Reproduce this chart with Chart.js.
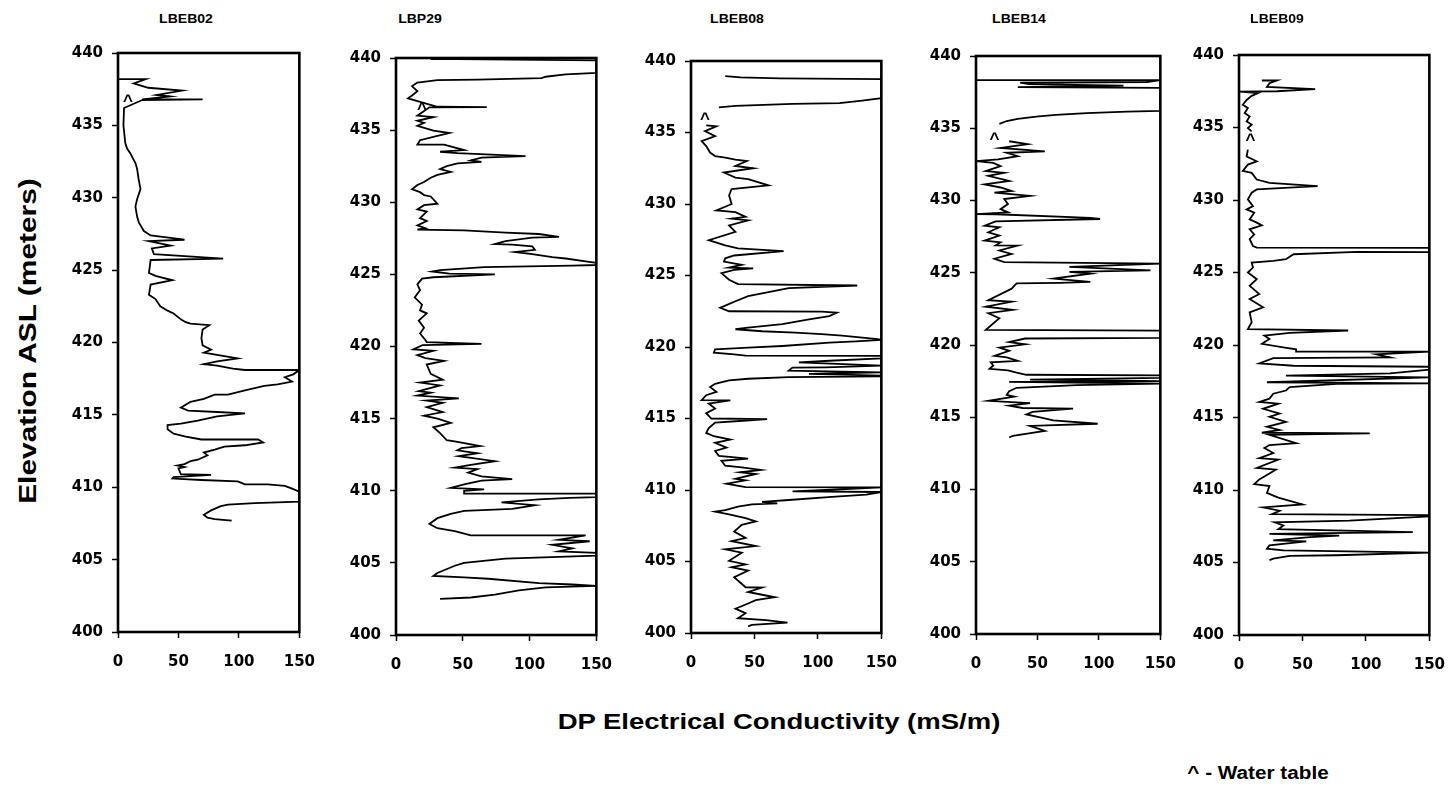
<!DOCTYPE html>
<html>
<head>
<meta charset="utf-8">
<script src="https://cdn.jsdelivr.net/npm/chart.js@4.4.1/dist/chart.umd.min.js"></script>
<style>
  body { margin: 0; background: #fff; }
  #page { position: relative; width: 1453px; height: 786px; overflow: hidden; background: #fff;
          font-family: "Liberation Sans", Arial, sans-serif; font-weight: bold; color: #000; }
  .panel { position: absolute; }
  .well { position: absolute; font-size: 13px; transform: translate(-50%, -50%) scaleX(1.08); white-space: nowrap; }
  #ytitle { position: absolute; left: 28px; top: 341px; font-size: 23px; white-space: nowrap;
            transform: translate(-50%, -50%) rotate(-90deg) scaleX(1.3); }
  #xtitle { position: absolute; left: 779px; top: 722px; font-size: 22px; white-space: nowrap;
            transform: translate(-50%, -50%) scaleX(1.25); }
  #legend { position: absolute; left: 1258px; top: 773px; font-size: 18px; white-space: nowrap;
            transform: translate(-50%, -50%) scaleX(1.15); }
</style>
</head>
<body>
<div id="page">
  <div id="ytitle">Elevation ASL (meters)</div>
  <div id="xtitle">DP Electrical Conductivity (mS/m)</div>
  <div id="legend">^ - Water table</div>
</div>
<script>
// well names and axis ranges
const wells = ["LBEB02", "LBP29", "LBEB08", "LBEB14", "LBEB09"];
const elevRange = [400, 440];
const condTicks = [0, 50, 100, 150];

// profiles: [elevation m, conductivity mS/m], top to bottom; null = break
const LBEB02 = [
  [438.2,0],[438.2,23],[437.9,13],[437.6,25],[437.4,53],[437.1,32],[437.0,43],[436.8,20],[436.8,70],[436.75,20],
  [436.2,5],[435.0,4.5],[433.8,6],[433.4,7.5],[433.1,10],[432.4,14.4],[432.0,15.8],[431.3,17],[430.6,18.6],[429.9,15.8],
  [429.4,14.4],[428.7,15.8],[428.3,17.2],[427.7,21.4],[427.4,27],[427.1,55],[427.0,25.6],[426.7,43.6],[426.5,28],[426.1,29.7],
  [425.8,87],[425.7,27],[424.8,25.6],[424.6,31],[424.3,45],[424.0,27],[423.3,25.6],[423.0,31],[422.5,35],[422.2,41],
  [422.0,46],[421.6,52],[421.4,56],[421.3,60],[421.2,75.5],[420.9,70],[420.3,69],[419.8,70],[419.5,77],[419.3,71],
  [418.9,99],[418.7,82],[418.5,71],[418.4,82],[418.2,95],[418.1,105],[418.1,150],[417.8,145],[417.6,138],[417.3,144],
  [417.1,132],[417.0,121],[416.7,105],[416.4,91],[416.4,80],[416.1,71],[415.9,60],[415.5,52],[415.3,58],[415.2,82],
  [415.1,105],[414.9,82],[414.6,66],[414.4,52],[414.3,41],[414.0,41],[413.7,46],[413.5,56],[413.3,69],[413.3,116],
  [413.1,120],[412.9,105],[412.8,88],[412.6,80],[412.4,71],[412.2,74],[411.9,66],[411.8,60],[411.6,55],[411.5,49],
  [411.4,55],[411.3,50],[410.9,52],[410.85,77],[410.7,46],[410.6,45],[410.5,69],[410.4,99],[410.2,105],[410.2,124],
  [410.1,138],[409.9,144],[409.7,150],[409.0,150],[408.9,113],[408.8,91],[408.7,85],[408.4,77],[408.1,71],[407.9,74],
  [407.8,80],[407.7,94]
];
const LBP29 = [
  [439.93,26],[439.92,45],[439.84,150],[438.97,150],[438.86,127],[438.7,112],[438.6,109],[438.5,61],[438.47,31],[438.3,16],
  [438.05,12],[437.7,16],[437.4,12],[437.2,9],[436.62,31],[436.6,68],[436.58,25],[436.0,16],[435.9,28],[435.65,16],
  [435.5,21],[435.3,16],[434.96,28],[434.8,40],[434.6,31],[434.3,18],[434.0,16],[434.0,36],[433.62,51],[433.5,33],
  [433.4,46],[433.2,97],[433.1,64],[432.9,56],[432.8,64],[432.7,46],[432.5,38],[432.3,33],[432.1,41],[431.9,31],
  [431.7,26],[431.4,21],[431.2,16],[430.9,12],[430.7,18],[430.5,21],[430.4,26],[429.9,31],[429.8,21],[429.5,16],
  [429.35,23],[428.9,18],[428.7,23],[428.4,16],[428.2,22],[428.1,16],[428.05,51],[427.9,82],[427.8,107],[427.6,122],
  [427.55,102],[427.3,82],[427.1,74],[427.06,87],[426.95,102],[426.7,104],[426.55,89],[426.4,102],[426.2,117],[426.1,127],
  [425.9,142],[425.8,150],[425.65,150],[425.6,132],[425.5,66],[425.3,33],[425.2,27],[425.05,40],[425.0,74],[424.8,28],
  [424.7,19.5],[424.3,16],[423.9,18],[423.4,14],[422.9,19.5],[422.5,18],[422.3,23],[421.8,17],[421.3,21],[420.9,18],
  [420.45,22],[420.3,23],[420.18,64],[420.1,20],[419.8,13],[419.7,28],[419.4,16],[419.2,22],[419.0,36],[418.75,23],
  [418.1,26],[417.7,35],[417.5,18],[417.3,33],[416.9,17],[416.8,26],[416.6,16],[416.4,47],[416.25,23],[416.1,35],
  [415.8,23],[415.45,35],[415.2,21],[415.0,31],[414.7,41],[414.4,28],[414.0,33],[413.5,38],[413.4,45],[413.1,63],
  [412.95,49],[412.8,46],[412.6,61],[412.4,47],[412.05,74],[411.8,56],[411.6,44],[411.5,61],[411.25,54],[411.0,64],
  [410.8,87],[410.7,64],[410.45,51],[410.2,41],[410.1,66],[410.0,51],[409.8,51],[409.8,150],[409.55,150],[409.5,130],
  [409.4,107],[409.2,79],[409.0,104],[408.75,87],[408.6,51],[408.4,41],[408.1,31],[407.7,25],[407.4,31],[407.2,44],
  [406.9,56],[406.9,142],[406.6,122],[406.5,145],[406.25,117],[406.0,132],[405.8,122],[405.7,150],[405.5,150],[405.3,82],
  [405.0,51],[404.8,44],[404.3,31],[404.1,28],[404.0,51],[403.9,69],[403.6,107],[403.5,132],[403.4,150],[403.3,112],
  [403.1,92],[402.8,74],[402.6,56],[402.5,33]
];
const LBEB08 = [
  [438.94,27],[438.85,39],[438.78,70],[438.73,150],[437.4,150],[437.23,135],[437.05,117],[437.0,80],[436.86,35],[436.75,22],
  null,[435.5,12],[435.43,20],[435.1,11],[434.74,19],[434.4,8.4],[434.05,12],[433.6,15],[433.35,19],[433.24,27],
  [433.1,35],[433.0,44],[432.66,35],[432.5,49],[432.2,26],[431.85,35],[431.74,45],[431.3,61],[431.05,32],[430.6,30],
  [430.0,32],[429.55,20],[429.43,35],[429.1,43],[428.97,32],[428.85,45],[428.5,30],[428.05,35],[427.47,14],[427.1,27],
  [426.9,37],[426.7,73],[426.4,34],[426.2,27],[425.97,26],[425.74,40],[425.55,30],[425.5,49],[425.4,34],[425.16,24],
  [424.7,30],[424.4,37],[424.3,131],[424.12,77],[423.8,59],[423.55,45],[423.2,35],[422.74,23],[422.5,30],[422.48,103],
  [422.4,115],[422.16,109],[421.93,93],[421.6,72],[421.35,45],[421.24,35],[421.1,56],[421.0,82],[420.9,103],[420.8,119],
  [420.66,135],[420.55,147],[420.5,150],[420.4,130],[420.3,109],[420.07,72],[419.95,45],[419.84,19],[419.6,18],[419.5,32],
  [419.4,43],[419.38,150],[419.2,150],[419.04,109],[418.92,85],[418.7,150],[418.58,106],[418.56,80],[418.35,77],[418.23,150],
  [418.12,93],[418.0,150],[417.95,150],[417.9,77],[417.78,45],[417.66,30],[417.43,19],[417.2,15],[416.86,20],[416.63,12],
  [416.28,8.4],[416.27,31],[416.05,14],[415.7,19],[415.37,12],[415.0,16],[414.95,60],[414.86,44],[414.72,19],[414.33,14],
  [413.99,12],[413.76,18],[413.53,31],[413.3,19],[412.96,28],[412.73,19],[412.39,22],[412.2,45],[412.04,24],[411.7,27],
  [411.58,40],[411.4,55],[411.24,39],[411.12,51],[410.78,35],[410.67,43],[410.44,28],[410.2,43],[410.18,150],[410.0,106],
  [409.9,80],[409.86,150],[409.68,138],[409.52,111],[409.3,77],[409.17,56],[409.06,68],[409.0,48],[408.83,37],[408.6,27],
  [408.49,19],[408.3,30],[408.03,43],[407.8,51],[407.57,40],[407.1,34],[406.65,43],[406.42,32],[406.08,51],[405.85,27],
  [405.62,40],[405.05,30],[404.8,43],[404.6,32],[404.36,45],[403.9,34],[403.2,43],[403.18,56],[402.87,45],[402.5,66],
  [402.3,51],[402.06,45],[401.7,35],[401.38,43],[401.03,37],[400.9,59],[400.73,76],[400.57,48],[400.46,45]
];
const LBEB14 = [
  [438.33,0],[438.33,150],[438.2,139],[438.15,36],[438.05,43],[437.95,120],[437.85,34],[437.8,150],[436.2,150],[436.15,123],
  [436.04,90],[435.93,65],[435.8,49],[435.65,34],[435.5,25],[435.3,19],null,[434.1,27],[433.9,42],[433.64,20],
  [433.4,56],[433.3,25],[433.07,34],[432.84,18],[432.72,0],[432.6,14],[432.38,20],[432.04,8],[431.92,23],[431.7,10],
  [431.35,27],[431.12,7],[430.9,20],[430.66,29],[430.55,15],[430.32,44],[430.1,23],[429.75,26],[429.4,20],[429.18,26],
  [429.06,0],[429.05,16],[428.8,93],[428.72,101],[428.56,16],[428.26,7],[428.15,19],[427.8,10],[427.57,19],[427.23,7],
  [427.1,20],[426.9,16],[426.88,34],[426.54,19],[426.3,29],[425.97,15],[425.74,23],[425.63,150],[425.4,76],[425.17,142],
  [425.06,76],[424.94,93],[424.6,63],[424.37,93],[424.3,68],[424.26,33],[423.9,29],[423.1,10],[423.0,29],[422.65,8],
  [422.43,30],[422.2,10],[421.85,19],[421.05,8],[421.0,150],[420.5,150],[420.45,40],[420.2,27],[420.05,40],[419.82,19],
  [419.6,27],[419.25,15],[419.14,25],[418.9,34],[418.8,12],[418.58,14],[418.35,11],[418.24,26],[418.08,33],[417.94,41],
  [417.9,150],[417.72,150],[417.6,44],[417.5,150],[417.45,27],[417.33,150],[417.22,82],[417.04,33],[416.8,27],[416.54,25],
  [416.43,31],[416.14,10],[415.98,44],[415.8,27],[415.64,38],[415.6,79],[415.37,46],[415.19,41],[414.96,54],[414.78,63],
  [414.55,99],[414.4,44],[414.06,56],[413.72,30],[413.6,27]
];
const LBEB09 = [
  [438.24,18],[438.24,30],[438.05,24],[437.8,22],[437.64,60],[437.5,30],[437.48,0.5],[437.37,15],[437.18,10],[436.9,6],
  [436.57,3],[436.34,7],[436.0,4.5],[435.76,8.4],[435.42,6],[435.2,10],[434.96,7],[434.73,10],null,[433.47,7],
  [433.0,6],[432.67,14],[432.44,7],[432.0,3],[431.87,10],[431.41,14],[431.18,24],[430.95,62],[430.84,36],[430.73,14],
  [430.5,10],[430.04,7],[429.58,11],[429.35,6],[429.12,12],[428.66,8.4],[428.44,14],[428.25,18],[427.98,8.4],[427.63,12],
  [427.3,8.4],[426.83,11],[426.72,14],[426.7,150],[426.4,150],[426.42,93],[426.26,43],[425.92,37],[425.8,27],[425.69,10],
  [425.34,11],[425.0,7],[424.54,14],[424.08,8.4],[423.51,16],[423.17,8.4],[422.6,19],[422.25,8.4],[421.57,10],[421.1,7],
  [421.0,86],[420.83,40],[420.65,20],[420.42,24],[420.08,18],[419.82,36],[419.7,45],[419.55,45],[419.55,150],[419.36,108],
  [419.14,119],[419.1,27],[418.73,16],[418.57,43],[418.5,150],[418.3,150],[418.05,119],[417.89,37],[417.77,150],[417.43,22],
  [417.35,150],[417.32,77],[417.1,40],[416.86,37],[416.64,27],[416.3,24],[416.07,16],[415.95,31],[415.6,19],[415.27,32],
  [415.05,24],[414.7,37],[414.36,22],[414.14,32],[413.95,18],[413.9,103],[413.8,24],[413.23,45],[413.1,24],[412.9,20],
  [412.55,27],[412.2,16],[412.1,31],[411.52,14],[411.4,29],[410.73,16],[410.4,12],[410.27,24],[409.8,22],[409.48,31],
  [409.0,50],[408.8,19],[408.57,32],[408.34,26],[408.27,150],[408.18,150],[407.89,87],[407.77,28],[407.55,35],[407.3,31],
  [407.1,137],[406.98,24],[406.86,79],[406.75,56],[406.52,27],[406.45,53],[406.18,24],[405.95,22],[405.84,35],[405.68,150],
  [405.5,77],[405.45,40],[405.27,27],[405.16,24]
];
const profiles = [LBEB02, LBP29, LBEB08, LBEB14, LBEB09];

// water-table marks "^" per well
const waterTableElev = [436.95, 436.7, 436.24, 434.55, 434.4];
const waterTableCond = [8.3, 19.5, 11, 15, 9];

// layout: plot area of each panel in page pixels [left, top, right, bottom] and well-name centre
const plotBoxes = [
  [118, 45, 299, 632],
  [396, 50, 596, 635],
  [691, 53, 881, 633],
  [976, 48, 1160, 634],
  [1239, 47, 1429, 635]
];
const nameCentres = [[186, 18], [420, 18], [737, 18], [1019, 18], [1277, 18]];
const Y_AXIS_W = 50, X_AXIS_H = 46, PAD_TOP = 10, PAD_RIGHT = 14;
const X_TICK_PAD = 15, Y_TICK_PAD = 9, TICK_SIZE = 15;
const TICK_FONT = "'DejaVu Sans', 'Liberation Sans', sans-serif";
const TEXT_FONT = "'Liberation Sans', Arial, sans-serif";

// Chart.js widens the right padding to half the last x label plus its tick padding
const measure = document.createElement("canvas").getContext("2d");
measure.font = "bold " + TICK_SIZE + "px " + TICK_FONT;
const padRight = Math.max(PAD_RIGHT, measure.measureText(String(condTicks[condTicks.length - 1])).width / 2 + X_TICK_PAD);

const framePlugin = {
  id: "frame",
  afterDatasetsDraw(chart) {
    const { ctx, chartArea: a } = chart;
    ctx.save();
    ctx.strokeStyle = "#000";
    ctx.lineWidth = 2.6;
    ctx.strokeRect(a.left, a.top, a.right - a.left, a.bottom - a.top);
    ctx.restore();
  }
};

const waterTablePlugin = {
  id: "waterTable",
  afterDraw(chart, args, opts) {
    const x = chart.scales.x.getPixelForValue(opts.cond);
    const y = chart.scales.y.getPixelForValue(opts.elev);
    const ctx = chart.ctx;
    const size = 17;
    ctx.save();
    ctx.font = "bold " + size + "px " + TEXT_FONT;
    ctx.fillStyle = "#000";
    ctx.textAlign = "center";
    ctx.textBaseline = "alphabetic";
    ctx.fillText("^", x, y + 0.52 * size);
    ctx.restore();
  }
};

const page = document.getElementById("page");

wells.forEach((name, i) => {
  const [l, t, r, b] = plotBoxes[i];
  const w = Math.round((r - l) + Y_AXIS_W + padRight);
  const h = (b - t) + PAD_TOP + X_AXIS_H;

  const holder = document.createElement("div");
  holder.className = "panel";
  holder.style.left = (l - Y_AXIS_W) + "px";
  holder.style.top = (t - PAD_TOP) + "px";
  const canvas = document.createElement("canvas");
  canvas.width = w;
  canvas.height = h;
  holder.appendChild(canvas);
  page.appendChild(holder);

  const label = document.createElement("div");
  label.className = "well";
  label.textContent = name;
  label.style.left = nameCentres[i][0] + "px";
  label.style.top = nameCentres[i][1] + "px";
  page.appendChild(label);

  const points = profiles[i].map(p => p ? { x: p[1], y: p[0] } : { x: null, y: null });

  new Chart(canvas, {
    type: "scatter",
    data: {
      datasets: [{
        data: points,
        showLine: true,
        spanGaps: false,
        borderColor: "#000",
        borderWidth: 1.8,
        pointRadius: 0,
        tension: 0
      }]
    },
    options: {
      responsive: false,
      animation: false,
      layout: { padding: { top: PAD_TOP, right: PAD_RIGHT, left: 0, bottom: 0 } },
      plugins: {
        legend: { display: false },
        tooltip: { enabled: false },
        waterTable: { cond: waterTableCond[i], elev: waterTableElev[i] }
      },
      scales: {
        x: {
          type: "linear",
          min: condTicks[0],
          max: condTicks[condTicks.length - 1],
          afterFit: s => { s.height = X_AXIS_H; },
          afterBuildTicks: s => { s.ticks = condTicks.map(v => ({ value: v })); },
          grid: { drawOnChartArea: false, drawTicks: true, tickLength: 6, tickColor: "#000", tickWidth: 1.5 },
          border: { display: false },
          ticks: { color: "#000", padding: X_TICK_PAD, maxRotation: 0,
                   font: { family: TICK_FONT, size: TICK_SIZE, weight: "bold" } }
        },
        y: {
          type: "linear",
          min: elevRange[0],
          max: elevRange[1],
          afterFit: s => { s.width = Y_AXIS_W; },
          grid: { drawOnChartArea: false, drawTicks: true, tickLength: 6, tickColor: "#000", tickWidth: 1.5 },
          border: { display: false },
          ticks: { stepSize: 5, color: "#000", padding: Y_TICK_PAD,
                   font: { family: TICK_FONT, size: TICK_SIZE, weight: "bold" } }
        }
      }
    },
    plugins: [framePlugin, waterTablePlugin]
  });
});
</script>
</body>
</html>
